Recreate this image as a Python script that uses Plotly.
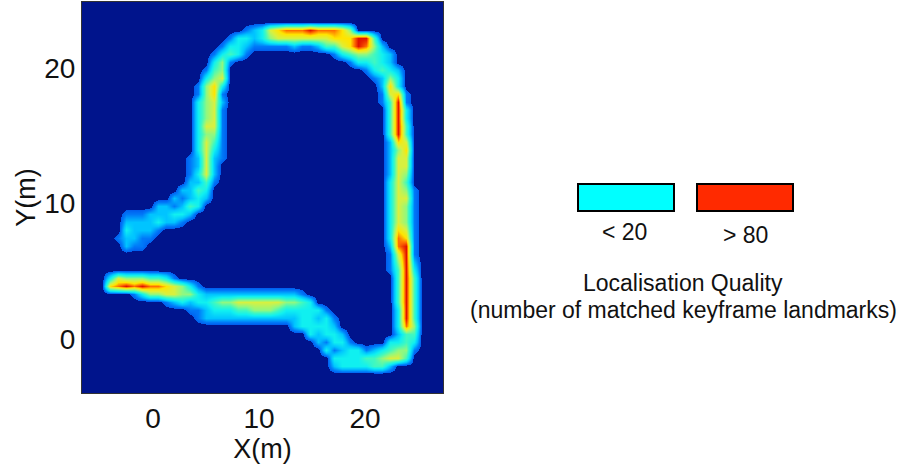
import numpy as np
import plotly.graph_objects as go

# Quality level (0-9), one entry per grid row from the top.
# Each row lists (first column, digits of consecutive cells).
quality_rows = [
    [], [], [],
    [(20, "12367888988875")],
    [(18, "1332356666666777994")],
    [(17, "133211111211244679852")],
    [(16, "13431"), (31, "13455432")],
    [(16, "351"), (33, "133432")],
    [(15, "145"), (35, "13432")],
    [(15, "356"), (36, "1253")],
    [(14, "1573"), (37, "273")],
    [(14, "1571"), (37, "1671")],
    [(14, "3562"), (37, "1491")],
    [(14, "3561"), (38, "493")],
    [(14, "3561"), (38, "493")],
    [(14, "3661"), (38, "494")],
    [(14, "3551"), (38, "494")],
    [(14, "3641"), (38, "276")],
    [(14, "3631"), (38, "257")],
    [(13, "12621"), (38, "266")],
    [(13, "1262"), (38, "266")],
    [(13, "1362"), (38, "265")],
    [(13, "2241"), (38, "364")],
    [(12, "2243"), (38, "3651")],
    [(11, "21232"), (38, "3661")],
    [(9, "221243"), (38, "3651")],
    [(5, "111222332"), (38, "3651")],
    [(5, "22223221"), (38, "3651")],
    [(5, "32221"), (38, "3761")],
    [(4, "12211"), (38, "3871")],
    [(5, "211"), (38, "2891")],
    [(38, "1691")],
    [(38, "1592")],
    [(38, "1493")],
    [(3, "365554431"), (39, "494")],
    [(3, "789898876531"), (39, "494")],
    [(6, "1355665532222222222221"), (39, "494")],
    [(10, "1232334556666665543"), (39, "494")],
    [(13, "112333445554333331"), (39, "394")],
    [(14, "122222222222233231"), (39, "394")],
    [(26, "233332"), (39, "385")],
    [(28, "32332"), (39, "244")],
    [(29, "21331"), (38, "3343")],
    [(30, "312331234551")],
    [(31, "3333445664")],
    [(31, "23333442")],
    [], [], [],
]
grid_columns = 45

x_tick_values = [0, 10, 20]
y_tick_values = [0, 10, 20]
x_title = "X(m)"
y_title = "Y(m)"
legend_low_label = "< 20"
legend_high_label = "> 80"
caption_lines = ["Localisation Quality", "(number of matched keyframe landmarks)"]

z = np.zeros((len(quality_rows), grid_columns))
for r, segments in enumerate(quality_rows):
    for start, digits in segments:
        for k, ch in enumerate(digits):
            z[r, start + k] = int(ch)
z = z[::-1]

NAVY = "#00148c"
cut = 0.5 / 9
colorscale = [
    [0, NAVY], [cut - 1e-4, NAVY], [cut, "#0060f0"], [1 / 9, "#0078f8"],
    [2 / 9, "#00c4ff"], [3 / 9, "#10f0f0"], [4 / 9, "#40f8c0"], [5 / 9, "#90f880"],
    [6 / 9, "#d8f040"], [7 / 9, "#ffe400"], [8 / 9, "#ff7000"], [1, "#e01000"],
]

PL, PR, PT, PB = 82, 443, 2, 393
W, H = 899, 471
px_per_x, px_per_y = 10.6, 13.55
x_zero, y_zero = 153, 339
FONT = "Liberation Sans, Arial, sans-serif"

fig = go.Figure(go.Heatmap(
    z=z, zmin=0, zmax=9, zsmooth="best", colorscale=colorscale, showscale=False,
    x0=(86 - x_zero) / px_per_x, dx=8 / px_per_x,
    y0=(y_zero - 390) / px_per_y, dy=8 / px_per_y,
    hoverinfo="skip",
))


def xp(px):
    return (px - PL) / (PR - PL)


def yp(py):
    return (PB - py) / (PB - PT)


def box(x0, x1, colour):
    return dict(type="rect", xref="paper", yref="paper", x0=xp(x0), x1=xp(x1),
                y0=yp(211), y1=yp(184), fillcolor=colour,
                line=dict(color="#000000", width=2))


def label(text, px, py, size=23):
    return dict(text=text, xref="paper", yref="paper", x=xp(px), y=yp(py),
                showarrow=False, xanchor="center", yanchor="middle",
                font=dict(family=FONT, size=size, color="#111111"))


fig.update_layout(
    width=W, height=H, autosize=False,
    margin=dict(l=PL, r=W - PR, t=PT, b=H - PB),
    paper_bgcolor="white", plot_bgcolor=NAVY,
    font=dict(family=FONT, color="#111111"),
    xaxis=dict(range=[(PL - x_zero) / px_per_x, (PR - x_zero) / px_per_x],
               tickvals=x_tick_values, ticks="", showgrid=False, zeroline=False,
               showline=True, linecolor="#333333", linewidth=1, mirror=True,
               tickfont=dict(size=28), automargin=False,
               title=dict(text=x_title, font=dict(size=27), standoff=2)),
    yaxis=dict(range=[(y_zero - PB) / px_per_y, (y_zero - PT) / px_per_y],
               tickvals=y_tick_values, ticks="", showgrid=False, zeroline=False,
               showline=True, linecolor="#333333", linewidth=1, mirror=True,
               tickfont=dict(size=28), automargin=False,
               title=dict(text=y_title, font=dict(size=27), standoff=0)),
    shapes=[box(578, 674, "#00ffff"), box(697, 793, "#ff2a00")],
    annotations=[
        label(legend_low_label, 624, 232),
        label(legend_high_label, 745, 235),
        label(caption_lines[0], 683, 283),
        label(caption_lines[1], 683, 310),
    ],
)
fig.write_html("out.html", config={"displayModeBar": False},
               post_script="document.body.style.margin='0';")
